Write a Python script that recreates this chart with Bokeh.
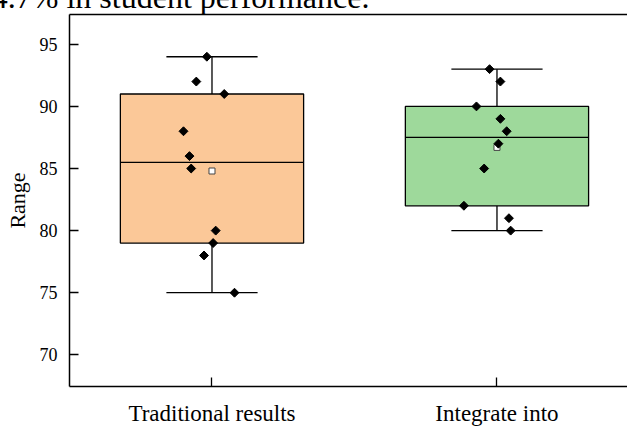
import math
import numpy as np
from bokeh.plotting import figure
from bokeh.models import Range1d, FixedTicker, LinearAxis
from bokeh.embed import file_html
from bokeh.resources import INLINE

# ---- data ----
categories = ["Traditional results", "Integrate into"]
traditional = [94, 92, 91, 88, 86, 85, 80, 79, 78, 75]
integrate = [93, 92, 90, 89, 88, 87, 85, 82, 81, 80]
jitter_traditional = [-0.018, -0.055, 0.043, -0.100, -0.079, -0.073, 0.013, 0.004, -0.028, 0.079]
jitter_integrate = [-0.026, 0.012, -0.072, 0.012, 0.034, 0.005, -0.045, -0.116, 0.042, 0.048]
y_ticks = [70, 75, 80, 85, 90, 95]
fill_colors = ["#FBC898", "#9ED99B"]
caption = "4.7% in student performance."

series = [traditional, integrate]
jitters = [jitter_traditional, jitter_integrate]
positions = [1, 2]

FONT = "Liberation Serif"
BOX_HALF = 0.3215
CAP_HALF = 0.16

HIDDEN_TOP = 24          # part of the canvas above the window (crops the caption line)
W, H = 627, 428 + HIDDEN_TOP
B_LEFT, B_RIGHT, B_TOP, B_BOTTOM = 69, 0, 14 + HIDDEN_TOP, 41
X0, X1 = 0.5, 2.458
Y0, Y1 = 67.45, 97.4


def hinges(vals):
    s = sorted(vals)
    n = len(s)
    h = n // 2
    lower = s[:h] if n % 2 == 0 else s[:h + 1]
    upper = s[h:]
    return float(np.median(lower)), float(np.median(s)), float(np.median(upper))


p = figure(width=W, height=H, output_backend="svg", toolbar_location=None,
           x_range=Range1d(X0, X1), y_range=Range1d(Y0, Y1),
           min_border_left=B_LEFT, min_border_right=B_RIGHT,
           min_border_top=B_TOP, min_border_bottom=B_BOTTOM,
           margin=(-HIDDEN_TOP, 0, 0, 0))
p.background_fill_color = "white"
p.border_fill_color = "white"
p.outline_line_color = None
p.xgrid.visible = False
p.ygrid.visible = False

# cropped caption line from the surrounding text
p.title.text = caption
p.title.text_font = FONT
p.title.text_font_size = "32px"
p.title.text_font_style = "normal"
p.title.text_color = "black"
p.title.align = "left"
p.title.vertical_align = "bottom"
p.title.standoff = 0
p.title.offset = -77.7

for x, vals, jit, col in zip(positions, series, jitters, fill_colors):
    q1, med, q3 = hinges(vals)
    lo, hi = min(vals), max(vals)
    mean = float(np.mean(vals))
    # whiskers
    p.segment(x0=[x, x], y0=[q3, q1], x1=[x, x], y1=[hi, lo], line_color="black", line_width=1.3)
    p.segment(x0=[x - CAP_HALF] * 2, y0=[hi, lo], x1=[x + CAP_HALF] * 2, y1=[hi, lo],
              line_color="black", line_width=1.3)
    # box
    p.quad(left=[x - BOX_HALF], right=[x + BOX_HALF], bottom=[q1], top=[q3],
           fill_color=col, line_color="black", line_width=1.3)
    # median
    p.segment(x0=[x - BOX_HALF], y0=[med], x1=[x + BOX_HALF], y1=[med], line_color="black", line_width=1.3)
    # mean
    p.scatter(x=[x], y=[mean], marker="square", size=6, fill_color="white",
              line_color="#444444", line_width=1)
    # points
    p.scatter(x=[x + j for j in jit], y=vals, marker="square", angle=math.pi / 4, size=6.3,
              fill_color="black", line_color="black")

# y axis
ya = p.yaxis[0]
ya.ticker = FixedTicker(ticks=y_ticks)
ya.axis_line_width = 1.5
ya.major_tick_in = 9
ya.major_tick_out = 0
ya.minor_tick_in = 0
ya.minor_tick_out = 0
ya.major_tick_line_width = 1.3
ya.major_label_text_font = FONT
ya.major_label_text_font_size = "18px"
ya.major_label_text_color = "black"
ya.major_label_standoff = 12
ya.axis_label = "Range"
ya.axis_label_text_font = FONT
ya.axis_label_text_font_size = "22px"
ya.axis_label_text_font_style = "normal"
ya.axis_label_text_color = "black"
ya.axis_label_standoff = 7

# x axis with category names
xa = p.xaxis[0]
xa.ticker = FixedTicker(ticks=positions)
xa.major_label_overrides = {pos: name for pos, name in zip(positions, categories)}
xa.axis_line_width = 1.5
xa.major_tick_in = 9
xa.major_tick_out = 0
xa.minor_tick_in = 0
xa.minor_tick_out = 0
xa.major_tick_line_width = 1.3
xa.major_label_text_font = FONT
xa.major_label_text_font_size = "23px"
xa.major_label_text_color = "black"
xa.major_label_standoff = 14

# top frame line
top = LinearAxis(ticker=FixedTicker(ticks=[]), axis_line_width=1.5,
                 major_tick_in=0, major_tick_out=0, minor_tick_in=0, minor_tick_out=0,
                 major_label_text_font_size="0px", major_label_standoff=0)
p.add_layout(top, "above")

open("out.html", "w").write(file_html(p, INLINE))
